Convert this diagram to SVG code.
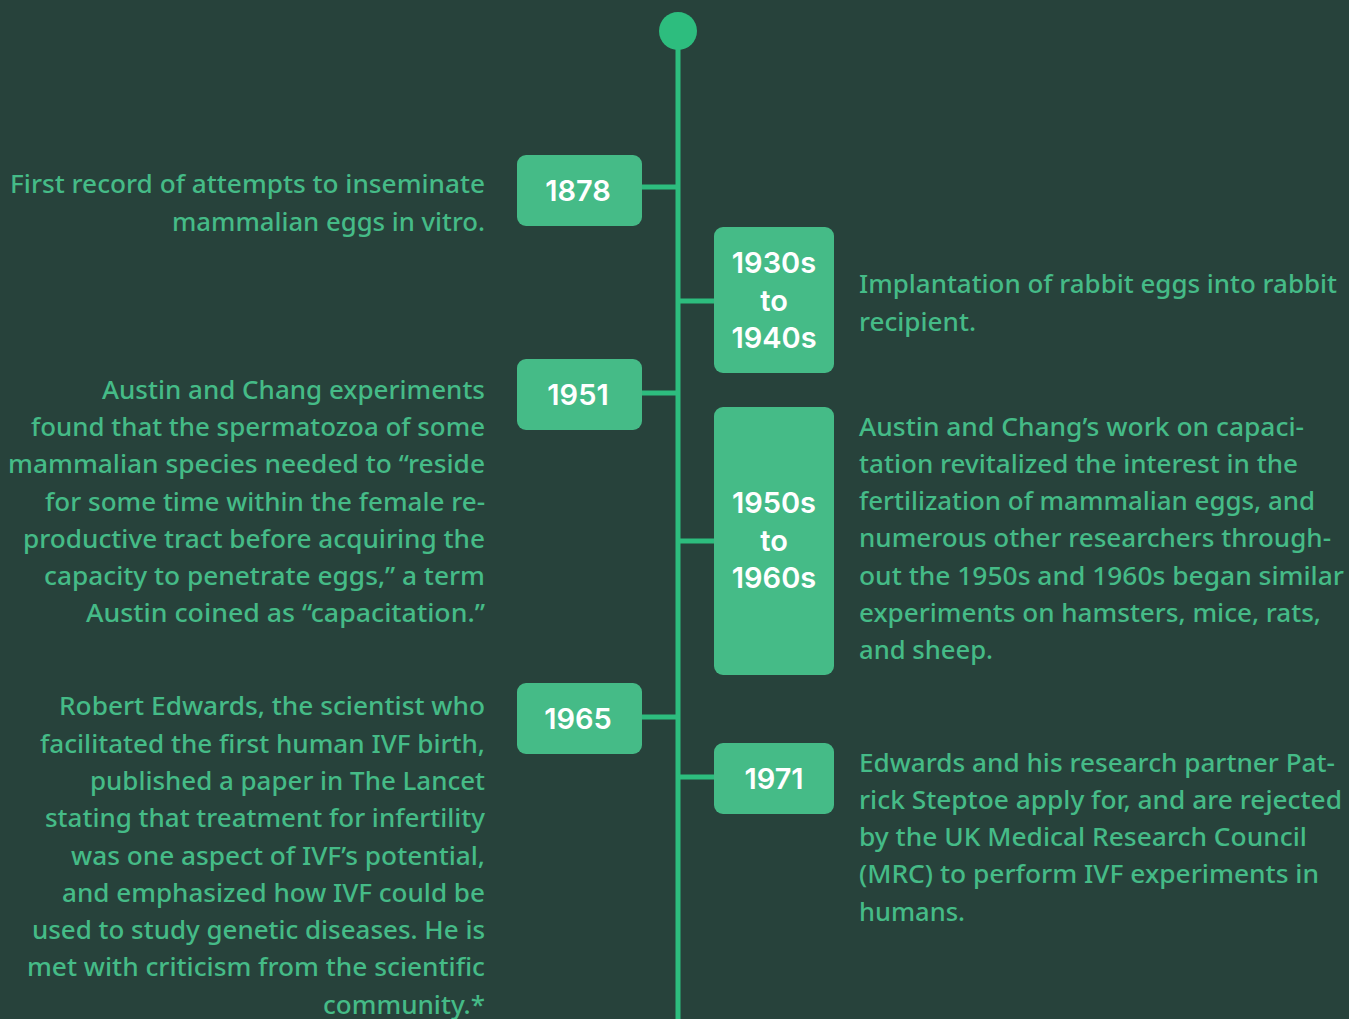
<svg xmlns="http://www.w3.org/2000/svg" width="1349" height="1019" viewBox="0 0 1349 1019">
<style>
.bg{fill:#27423b}
.box{fill:#45bb87}
.lbl{font-family:Inter,"Liberation Sans",sans-serif;font-weight:600;font-size:29px;fill:#ffffff;text-anchor:middle}
.txt{font-family:"Noto Sans","Open Sans",sans-serif;font-weight:500;font-size:25px;fill:#45bb87}
.l{text-anchor:end}
.conn{stroke:#2dbd7e;stroke-width:5;fill:none}
</style>
<rect class="bg" x="0" y="0" width="1349" height="1019"/>
<g id="connectors">
<line class="conn" x1="678" y1="40" x2="678" y2="1019"/>
<line class="conn" x1="640" y1="187" x2="678" y2="187"/>
<line class="conn" x1="678" y1="301" x2="716" y2="301"/>
<line class="conn" x1="640" y1="393" x2="678" y2="393"/>
<line class="conn" x1="678" y1="541" x2="716" y2="541"/>
<line class="conn" x1="640" y1="717" x2="678" y2="717"/>
<line class="conn" x1="678" y1="777" x2="716" y2="777"/>
</g>
<g id="start"><circle cx="678" cy="31" r="19" fill="#2dbd7e"/></g>
<g id="n1878">
<rect class="box" x="517" y="155" width="125" height="71" rx="9"/>
<text class="lbl" x="578" y="201">1878</text>
<text class="txt l" x="485" y="193.3" textLength="475" lengthAdjust="spacingAndGlyphs">First record of attempts to inseminate</text>
<text class="txt l" x="485" y="230.6" textLength="313" lengthAdjust="spacingAndGlyphs">mammalian eggs in vitro.</text>
</g>
<g id="n1930s">
<rect class="box" x="714" y="227" width="120" height="146" rx="9"/>
<text class="lbl" x="774" y="273.3">1930s</text>
<text class="lbl" x="774" y="310.7">to</text>
<text class="lbl" x="774" y="348.3">1940s</text>
<text class="txt" x="859" y="293.3" textLength="478" lengthAdjust="spacingAndGlyphs">Implantation of rabbit eggs into rabbit</text>
<text class="txt" x="859" y="330.6" textLength="117" lengthAdjust="spacingAndGlyphs">recipient.</text>
</g>
<g id="n1951">
<rect class="box" x="517" y="359" width="125" height="71" rx="9"/>
<text class="lbl" x="578" y="405">1951</text>
<text class="txt l" x="485" y="398.6" textLength="383" lengthAdjust="spacingAndGlyphs">Austin and Chang experiments</text>
<text class="txt l" x="485" y="435.9" textLength="454" lengthAdjust="spacingAndGlyphs">found that the spermatozoa of some</text>
<text class="txt l" x="485" y="473.2" textLength="477" lengthAdjust="spacingAndGlyphs">mammalian species needed to “reside</text>
<text class="txt l" x="485" y="510.5" textLength="440" lengthAdjust="spacingAndGlyphs">for some time within the female re-</text>
<text class="txt l" x="485" y="547.8" textLength="462" lengthAdjust="spacingAndGlyphs">productive tract before acquiring the</text>
<text class="txt l" x="485" y="585.1" textLength="441" lengthAdjust="spacingAndGlyphs">capacity to penetrate eggs,” a term</text>
<text class="txt l" x="485" y="622.4" textLength="399" lengthAdjust="spacingAndGlyphs">Austin coined as “capacitation.”</text>
</g>
<g id="n1950s">
<rect class="box" x="714" y="407" width="120" height="268" rx="9"/>
<text class="lbl" x="774" y="513.3">1950s</text>
<text class="lbl" x="774" y="551">to</text>
<text class="lbl" x="774" y="588.3">1960s</text>
<text class="txt" x="859" y="435.5" textLength="445" lengthAdjust="spacingAndGlyphs">Austin and Chang’s work on capaci-</text>
<text class="txt" x="859" y="472.8" textLength="439" lengthAdjust="spacingAndGlyphs">tation revitalized the interest in the</text>
<text class="txt" x="859" y="510.1" textLength="456" lengthAdjust="spacingAndGlyphs">fertilization of mammalian eggs, and</text>
<text class="txt" x="859" y="547.4" textLength="472" lengthAdjust="spacingAndGlyphs">numerous other researchers through-</text>
<text class="txt" x="859" y="584.7" textLength="485" lengthAdjust="spacingAndGlyphs">out the 1950s and 1960s began similar</text>
<text class="txt" x="859" y="622" textLength="462" lengthAdjust="spacingAndGlyphs">experiments on hamsters, mice, rats,</text>
<text class="txt" x="859" y="659.3" textLength="134" lengthAdjust="spacingAndGlyphs">and sheep.</text>
</g>
<g id="n1965">
<rect class="box" x="517" y="683" width="125" height="71" rx="9"/>
<text class="lbl" x="578" y="729">1965</text>
<text class="txt l" x="485" y="715.3" textLength="426" lengthAdjust="spacingAndGlyphs">Robert Edwards, the scientist who</text>
<text class="txt l" x="485" y="752.6" textLength="445" lengthAdjust="spacingAndGlyphs">facilitated the first human IVF birth,</text>
<text class="txt l" x="485" y="789.9" textLength="395" lengthAdjust="spacingAndGlyphs">published a paper in The Lancet</text>
<text class="txt l" x="485" y="827.2" textLength="440" lengthAdjust="spacingAndGlyphs">stating that treatment for infertility</text>
<text class="txt l" x="485" y="864.5" textLength="414" lengthAdjust="spacingAndGlyphs">was one aspect of IVF’s potential,</text>
<text class="txt l" x="485" y="901.8" textLength="423" lengthAdjust="spacingAndGlyphs">and emphasized how IVF could be</text>
<text class="txt l" x="485" y="939.1" textLength="453" lengthAdjust="spacingAndGlyphs">used to study genetic diseases. He is</text>
<text class="txt l" x="485" y="976.4" textLength="458" lengthAdjust="spacingAndGlyphs">met with criticism from the scientific</text>
<text class="txt l" x="485" y="1013.7" textLength="162" lengthAdjust="spacingAndGlyphs">community.*</text>
</g>
<g id="n1971">
<rect class="box" x="714" y="743" width="120" height="71" rx="9"/>
<text class="lbl" x="774" y="789">1971</text>
<text class="txt" x="859" y="771.5" textLength="476" lengthAdjust="spacingAndGlyphs">Edwards and his research partner Pat-</text>
<text class="txt" x="859" y="808.8" textLength="483" lengthAdjust="spacingAndGlyphs">rick Steptoe apply for, and are rejected</text>
<text class="txt" x="859" y="846.1" textLength="448" lengthAdjust="spacingAndGlyphs">by the UK Medical Research Council</text>
<text class="txt" x="859" y="883.4" textLength="460" lengthAdjust="spacingAndGlyphs">(MRC) to perform IVF experiments in</text>
<text class="txt" x="859" y="920.7" textLength="106" lengthAdjust="spacingAndGlyphs">humans.</text>
</g>
</svg>
